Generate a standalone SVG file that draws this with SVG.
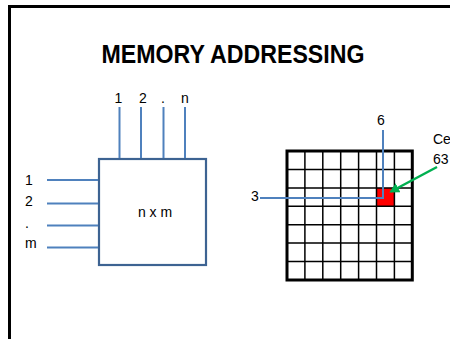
<svg xmlns="http://www.w3.org/2000/svg" width="450" height="339" viewBox="0 0 450 339">
<style>
.t{font-family:"Liberation Sans",Arial,sans-serif;font-size:14px;fill:#000}
.w{stroke:#4f81bd;stroke-width:2;fill:none}
.g{stroke:#000;stroke-width:1.5;fill:none}
</style>
<defs>
<marker id="ah" viewBox="0 0 10 10" refX="8" refY="5" markerWidth="4" markerHeight="4" orient="auto" markerUnits="strokeWidth">
<path d="M0,0 L10,5 L0,10 z" fill="#00b050"/>
</marker>
</defs>
<rect x="0" y="0" width="450" height="339" fill="#fff"/>
<path d="M9.5,345 V6.5 H455" stroke="#000" stroke-width="3" fill="none"/>
<text x="233" y="63" text-anchor="middle" font-family="Liberation Sans,Arial,sans-serif" font-weight="bold" font-size="26" textLength="263" lengthAdjust="spacingAndGlyphs">MEMORY ADDRESSING</text>

<g id="memory">
<rect x="99" y="159" width="107" height="106" fill="#fff" stroke="#3d6392" stroke-width="2.2"/>
<text class="t" x="155" y="217" text-anchor="middle">n x m</text>
</g>

<g id="top-labels">
<text class="t" x="118.5" y="103" text-anchor="middle">1</text>
<text class="t" x="143" y="103" text-anchor="middle">2</text>
<text class="t" x="163" y="103" text-anchor="middle">.</text>
<text class="t" x="185" y="103" text-anchor="middle">n</text>
</g>
<g id="left-labels">
<text class="t" x="25" y="185">1</text>
<text class="t" x="25" y="206">2</text>
<text class="t" x="25" y="228">.</text>
<text class="t" x="25" y="248">m</text>
</g>

<g id="grid">
<rect x="376.5" y="187.9" width="17.9" height="18.4" fill="#ff0000"/>
<path class="g" d="M304.9,151V280M322.8,151V280M340.7,151V280M358.6,151V280M376.5,151V280M394.4,151V280M287,169.4H412.3M287,187.9H412.3M287,206.3H412.3M287,224.7H412.3M287,243.1H412.3M287,261.6H412.3"/>
<rect x="287" y="151" width="125.3" height="129" fill="none" stroke="#000" stroke-width="3"/>
</g>

<g id="connectors">
<line class="w" x1="119.5" y1="107" x2="119.5" y2="158"/>
<line class="w" x1="141" y1="107" x2="141" y2="158"/>
<line class="w" x1="163.5" y1="107" x2="163.5" y2="158"/>
<line class="w" x1="185" y1="107" x2="185" y2="158"/>
<line class="w" x1="47" y1="180" x2="98" y2="180"/>
<line class="w" x1="47" y1="203.5" x2="98" y2="203.5"/>
<line class="w" x1="47" y1="225.5" x2="98" y2="225.5"/>
<line class="w" x1="47" y1="247.5" x2="98" y2="247.5"/>
<path class="w" d="M260,198 H383 V130" stroke-width="1.8"/>
<line x1="437" y1="167" x2="391" y2="191.5" stroke="#00b050" stroke-width="2.5" marker-end="url(#ah)"/>
</g>

<g id="grid-labels">
<text class="t" x="251" y="201">3</text>
<text class="t" x="377" y="125">6</text>
<text class="t" x="433" y="144" font-size="13.5">Ce</text>
<text class="t" x="433" y="164" font-size="13.5">63</text>
</g>
</svg>
